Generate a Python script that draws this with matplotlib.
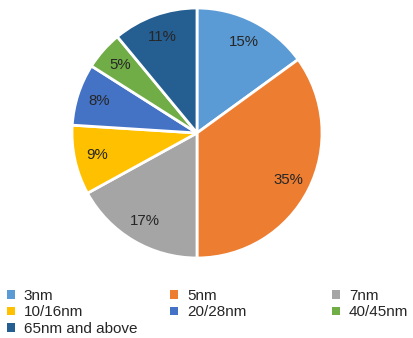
import matplotlib.pyplot as plt
from matplotlib.patches import Patch

plt.rcParams['font.family'] = ['Liberation Sans', 'DejaVu Sans']

labels = ["3nm", "5nm", "7nm", "10/16nm", "20/28nm", "40/45nm", "65nm and above"]
shares = [15, 35, 17, 9, 8, 5, 11]
colors = ["#5B9BD5", "#ED7D31", "#A5A5A5", "#FFC000", "#4472C4", "#70AD47", "#255E91"]

fig = plt.figure(figsize=(4.13, 3.38), dpi=100)
ax = fig.add_axes([72 / 413, 80 / 338, 250 / 413, 250 / 338])
wedges, texts, autotexts = ax.pie(
    shares, colors=colors, startangle=90, counterclock=False,
    autopct="%1.0f%%", pctdistance=0.82,
    wedgeprops=dict(edgecolor="white", linewidth=2),
    textprops=dict(fontsize=10.8, color="#262626"))
ax.set_xlim(-1, 1)
ax.set_ylim(-1, 1)

# legend laid out row by row in three columns
cols = [[0, 3, 6], [1, 4], [2, 5]]
xs = [1 / 413, 164 / 413, 326 / 413]
for x0, idx in zip(xs, cols):
    handles = [Patch(facecolor=colors[i], edgecolor="none") for i in idx]
    fig.legend(handles, [labels[i] for i in idx], loc="upper left",
               bbox_to_anchor=(x0, 1 - 283 / 338), frameon=False,
               fontsize=11, handlelength=0.5, handleheight=0.5,
               handletextpad=0.6, labelspacing=0.15, borderaxespad=0,
               labelcolor="#262626")

fig.savefig("out.png")
